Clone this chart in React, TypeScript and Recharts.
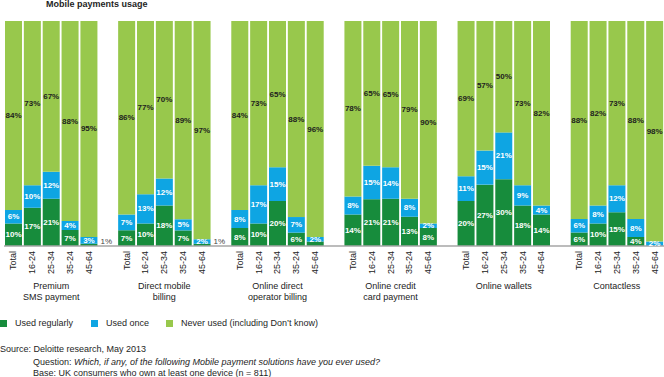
import { BarChart, Bar, XAxis, YAxis, LabelList } from "recharts";

const groups = [
  "Premium\nSMS payment",
  "Direct mobile\nbilling",
  "Online direct\noperator billing",
  "Online credit\ncard payment",
  "Online wallets",
  "Contactless",
];
const ages = ["Total", "16-24", "25-34", "35-24", "45-64"];

// per group: Total, 16-24, 25-34, 35-24, 45-64
const usedRegularly = [10, 17, 21, 7, 1, 7, 10, 18, 7, 1, 8, 10, 20, 6, 2, 14, 21, 21, 13, 8, 20, 27, 30, 18, 14, 6, 10, 15, 4, 0];
const usedOnce = [6, 10, 12, 4, 3, 7, 13, 12, 5, 2, 8, 17, 15, 7, 2, 8, 15, 14, 8, 2, 11, 15, 21, 9, 4, 6, 8, 12, 8, 2];
const neverUsed = [84, 73, 67, 88, 95, 86, 77, 70, 89, 97, 84, 73, 65, 88, 96, 78, 65, 65, 79, 90, 69, 57, 50, 73, 82, 88, 82, 73, 88, 98];

const DARK = "#178c3c";
const BLUE = "#0ea5e3";
const LIGHT = "#98c84c";
const FONT = "'Liberation Sans', Arial, sans-serif";

const rows: any[] = [];
groups.forEach((g, gi) => {
  ages.forEach((a, ai) => {
    const i = gi * 5 + ai;
    rows.push({ age: a, group: ai === 2 ? g : "", reg: usedRegularly[i], once: usedOnce[i], never: neverUsed[i] });
  });
  if (gi < groups.length - 1) rows.push({ age: "", group: "" });
});

const segLabel = (kind: string) => (props: any) => {
  const vb = props.viewBox ?? props;
  const { x, y, width, height } = vb;
  const value = props.value;
  if (value == null || value === 0) return null;
  if (kind === "reg" && value === 1) {
    return (
      <text x={x + width + 3} y={241} fontSize={8} fill="#444" dominantBaseline="central" fontFamily={FONT}>
        {value}%
      </text>
    );
  }
  if (kind === "reg" && value < 3) return null;
  return (
    <text
      x={x + width / 2}
      y={y + height / 2}
      fontSize={8}
      fontWeight="bold"
      fill={kind === "never" ? "#1e1e1e" : "#fff"}
      textAnchor="middle"
      dominantBaseline="central"
      fontFamily={FONT}
    >
      {value}%
    </text>
  );
};

const AgeTick = (props: any) => {
  const { x, y, payload } = props;
  const row = rows[payload.index];
  if (!row) return null;
  return (
    <g fontFamily={FONT} fill="#222">
      {row.age && (
        <text
          x={x}
          y={y + 5}
          transform={`rotate(-90, ${x}, ${y + 5})`}
          textAnchor="end"
          dominantBaseline="central"
          fontSize={9}
        >
          {row.age}
        </text>
      )}
      {row.group &&
        row.group.split("\n").map((line: string, k: number) => (
          <text key={k} x={x} y={y + 40 + k * 11} textAnchor="middle" dominantBaseline="central" fontSize={9}>
            {line}
          </text>
        ))}
    </g>
  );
};

const legendItems = [
  { name: "Used regularly", color: DARK, left: 0 },
  { name: "Used once", color: BLUE, left: 91 },
  { name: "Never used (including Don\u2019t know)", color: LIGHT, left: 166 },
];

export default function App() {
  return (
    <div style={{ position: "absolute", left: 0, top: 0, width: 664, height: 377, background: "#fff", fontFamily: FONT, color: "#1e1e1e" }}>
      <div style={{ position: "absolute", left: 46, top: 0, fontSize: 9, lineHeight: "9px", fontWeight: "bold" }}>
        Mobile payments usage
      </div>
      <div style={{ position: "absolute", left: 0, top: 0 }}>
        <BarChart width={664} height={305} data={rows} stackOffset="expand" margin={{ top: 21, right: 0, left: 4, bottom: 0 }}>
          <XAxis
            dataKey="age"
            interval={0}
            height={59}
            tickLine={false}
            tickSize={0}
            tickMargin={0}
            axisLine={{ stroke: "#a6a6a6", strokeWidth: 1.5 }}
            tick={<AgeTick />}
          />
          <YAxis hide domain={[0, 1]} />
          <Bar dataKey="reg" stackId="a" fill={DARK} barSize={17} isAnimationActive={false}>
            <LabelList dataKey="reg" content={segLabel("reg")} />
          </Bar>
          <Bar dataKey="once" stackId="a" fill={BLUE} barSize={17} isAnimationActive={false}>
            <LabelList dataKey="once" content={segLabel("once")} />
          </Bar>
          <Bar dataKey="never" stackId="a" fill={LIGHT} barSize={17} isAnimationActive={false}>
            <LabelList dataKey="never" content={segLabel("never")} />
          </Bar>
        </BarChart>
      </div>
      {legendItems.map((it) => (
        <div key={it.name} style={{ position: "absolute", left: it.left, top: 317, height: 12, display: "flex", alignItems: "center", fontSize: 9 }}>
          <span style={{ display: "inline-block", width: 7, height: 7, background: it.color, marginRight: 8 }} />
          {it.name}
        </div>
      ))}
      <div style={{ position: "absolute", left: 0, top: 343, fontSize: 9, lineHeight: "12px" }}>
        Source: Deloitte research, May 2013
      </div>
      <div style={{ position: "absolute", left: 33, top: 356, fontSize: 9, lineHeight: "12px" }}>
        Question: <i>Which, if any, of the following Mobile payment solutions have you ever used?</i>
      </div>
      <div style={{ position: "absolute", left: 33, top: 367, fontSize: 9, lineHeight: "12px" }}>
        Base: UK consumers who own at least one device (n = 811)
      </div>
    </div>
  );
}
